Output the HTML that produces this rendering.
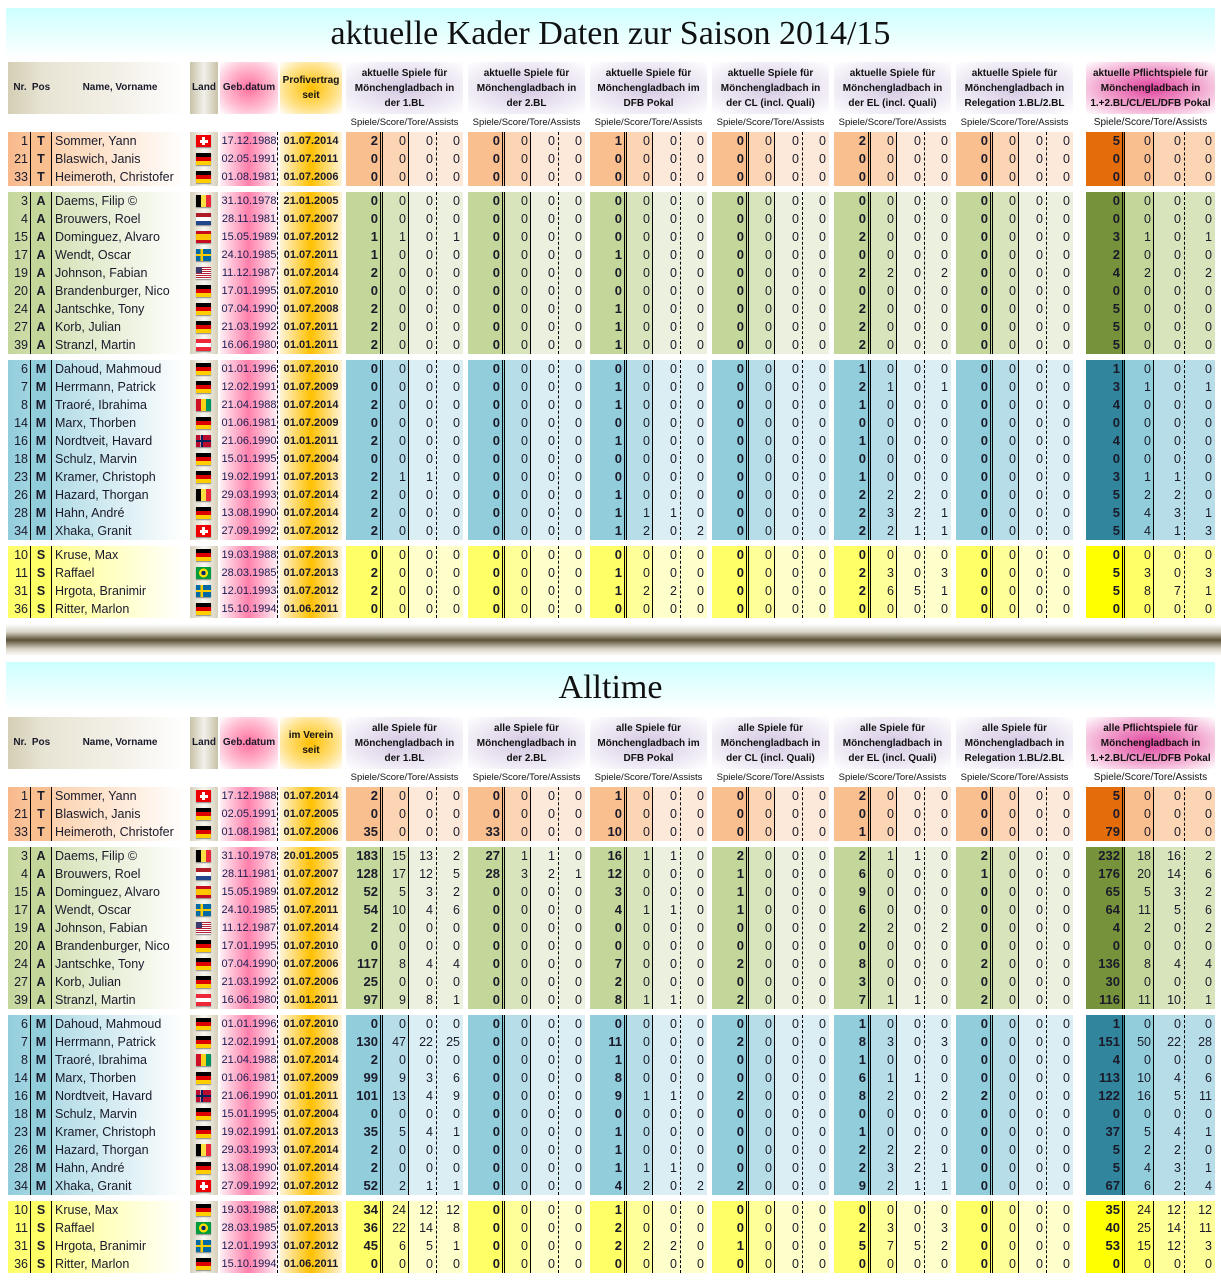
<!DOCTYPE html>
<html><head><meta charset="utf-8">
<style>
body{margin:0;width:1221px;height:1280px;background:#fff;position:relative;overflow:hidden;font-family:"Liberation Sans",sans-serif;color:#1a1a2a}
div{position:absolute;box-sizing:border-box}
.t{white-space:nowrap}
.title{font-family:"Liberation Serif",serif;font-size:34px;color:#111;text-align:center;left:0;width:1221px}
.hb{font-weight:bold;font-size:10px;text-align:center;line-height:15px;display:flex;align-items:center;justify-content:center;color:#111}
.sub{font-size:9.5px;text-align:center;color:#111}
.n{text-align:right;font-size:12.5px;line-height:18px;padding-right:3px}
.b{font-weight:bold;font-size:13px}
</style></head><body>
<div id="root"></div>
<script>
const R=document.body;
function d(x,y,w,h,st,txt,cls){const e=document.createElement('div');e.style.cssText=`left:${x}px;top:${y}px;width:${w}px;height:${h}px;`+(st||'');if(cls)e.className=cls;if(txt!==undefined)e.innerHTML=txt;R.appendChild(e);return e;}
const flags={
de:'linear-gradient(#000 0 33%,#dd0000 33% 66%,#ffce00 66%)',
ch:'#e00',
be:'linear-gradient(90deg,#000 0 33%,#fae042 33% 66%,#ed2939 66%)',
nl:'linear-gradient(#ae1c28 0 33%,#fff 33% 66%,#21468b 66%)',
es:'linear-gradient(#c60b1e 0 25%,#ffc400 25% 75%,#c60b1e 75%)',
se:'linear-gradient(transparent 40%,#fecc00 40% 60%,transparent 60%),linear-gradient(90deg,#006aa7 30%,#fecc00 30% 45%,#006aa7 45%)',
us:'linear-gradient(90deg,#3c3b6e 0 40%,transparent 40%) top left/100% 50% no-repeat,repeating-linear-gradient(#b22234 0 1px,#fff 1px 2px)',
at:'linear-gradient(#ed2939 0 33%,#fff 33% 66%,#ed2939 66%)',
gn:'linear-gradient(90deg,#ce1126 0 33%,#fcd116 33% 66%,#009460 66%)',
no:'linear-gradient(transparent 40%,#00205b 40% 60%,transparent 60%),linear-gradient(90deg,#ba0c2f 30%,#fff 30% 33%,#00205b 33% 45%,#fff 45% 48%,#ba0c2f 48%)',
br:'radial-gradient(circle,#002776 22%,#fedf00 24% 45%,#009b3a 48%)'
};
const P=[
['T',[[1,'Sommer, Yann','ch','17.12.1988','01.07.2014'],[21,'Blaswich, Janis','de','02.05.1991','01.07.2011','01.07.2005'],[33,'Heimeroth, Christofer','de','01.08.1981','01.07.2006']]],
['A',[[3,'Daems, Filip ©','be','31.10.1978','21.01.2005','20.01.2005'],[4,'Brouwers, Roel','nl','28.11.1981','01.07.2007'],[15,'Dominguez, Alvaro','es','15.05.1989','01.07.2012'],[17,'Wendt, Oscar','se','24.10.1985','01.07.2011'],[19,'Johnson, Fabian','us','11.12.1987','01.07.2014'],[20,'Brandenburger, Nico','de','17.01.1995','01.07.2010'],[24,'Jantschke, Tony','de','07.04.1990','01.07.2008','01.07.2006'],[27,'Korb, Julian','de','21.03.1992','01.07.2011','01.07.2006'],[39,'Stranzl, Martin','at','16.06.1980','01.01.2011']]],
['M',[[6,'Dahoud, Mahmoud','de','01.01.1996','01.07.2010'],[7,'Herrmann, Patrick','de','12.02.1991','01.07.2009','01.07.2008'],[8,'Traoré, Ibrahima','gn','21.04.1988','01.07.2014'],[14,'Marx, Thorben','de','01.06.1981','01.07.2009'],[16,'Nordtveit, Havard','no','21.06.1990','01.01.2011'],[18,'Schulz, Marvin','de','15.01.1995','01.07.2004'],[23,'Kramer, Christoph','de','19.02.1991','01.07.2013'],[26,'Hazard, Thorgan','be','29.03.1993','01.07.2014'],[28,'Hahn, André','de','13.08.1990','01.07.2014'],[34,'Xhaka, Granit','ch','27.09.1992','01.07.2012']]],
['S',[[10,'Kruse, Max','de','19.03.1988','01.07.2013'],[11,'Raffael','br','28.03.1985','01.07.2013'],[31,'Hrgota, Branimir','se','12.01.1993','01.07.2012'],[36,'Ritter, Marlon','de','15.10.1994','01.06.2011']]]
];
const CUR=[
['2 0 1 0 2 0 5','0 0 0 0 0 0 0','0 0 0 0 0 0 0'],
['0 0 0 0 0 0 0','0 0 0 0 0 0 0','1,1,0,1 0 0 0 2 0 3,1,0,1','1 0 1 0 0 0 2','2 0 0 0 2,2,0,2 0 4,2,0,2','0 0 0 0 0 0 0','2 0 1 0 2 0 5','2 0 1 0 2 0 5','2 0 1 0 2 0 5'],
['0 0 0 0 1 0 1','0 0 1 0 2,1,0,1 0 3,1,0,1','2 0 1 0 1 0 4','0 0 0 0 0 0 0','2 0 1 0 1 0 4','0 0 0 0 0 0 0','2,1,1,0 0 0 0 1 0 3,1,1,0','2 0 1 0 2,2,2,0 0 5,2,2,0','2 0 1,1,1,0 0 2,3,2,1 0 5,4,3,1','2 0 1,2,0,2 0 2,2,1,1 0 5,4,1,3'],
['0 0 0 0 0 0 0','2 0 1 0 2,3,0,3 0 5,3,0,3','2 0 1,2,2,0 0 2,6,5,1 0 5,8,7,1','0 0 0 0 0 0 0']
];
const ALL=[
['2 0 1 0 2 0 5','0 0 0 0 0 0 0','35 33 10 0 1 0 79'],
['183,15,13,2 27,1,1,0 16,1,1,0 2 2,1,1,0 2 232,18,16,2','128,17,12,5 28,3,2,1 12 1 6 1 176,20,14,6','52,5,3,2 0 3 1 9 0 65,5,3,2','54,10,4,6 0 4,1,1,0 1 6 0 64,11,5,6','2 0 0 0 2,2,0,2 0 4,2,0,2','0 0 0 0 0 0 0','117,8,4,4 0 7 2 8 2 136,8,4,4','25 0 2 0 3 0 30','97,9,8,1 0 8,1,1,0 2 7,1,1,0 2 116,11,10,1'],
['0 0 0 0 1 0 1','130,47,22,25 0 11 2 8,3,0,3 0 151,50,22,28','2 0 1 0 1 0 4','99,9,3,6 0 8 0 6,1,1,0 0 113,10,4,6','101,13,4,9 0 9,1,1,0 2 8,2,0,2 2 122,16,5,11','0 0 0 0 0 0 0','35,5,4,1 0 1 0 1 0 37,5,4,1','2 0 1 0 2,2,2,0 0 5,2,2,0','2 0 1,1,1,0 0 2,3,2,1 0 5,4,3,1','52,2,1,1 0 4,2,0,2 2 9,2,1,1 0 67,6,2,4'],
['34,24,12,12 0 1 0 0 0 35,24,12,12','36,22,14,8 0 2 0 2,3,0,3 0 40,25,14,11','45,6,5,1 0 2,2,2,0 1 5,7,5,2 0 53,15,12,3','0 0 0 0 0 0 0']
];
const COL={T:['#fabf8f','#fcd5b4','#fde9d9','#e46c0a','#fabf8f','#fcd5b4','#f8b88a'],
A:['#c4d79b','#d8e4bc','#ebf1de','#76933c','#c4d79b','#d8e4bc','#c4d79b'],
M:['#92cddc','#b7dee8','#daeef3','#31859c','#92cddc','#b7dee8','#92cddc'],
S:['#ffff66','#ffff99','#ffffcc','#ffff00','#ffff66','#ffff99','#ffff66']};
const GX=[346,468,590,712,834,956];
function section(y0,title,alltime,data,off){
 d(6,y0,1209,50,'background:linear-gradient(#ccffff,#fff);');
 d(0,y0+5,1221,42,'line-height:42px;',title,'title');
 const hy=y0+53+off,hh=52;
 d(8,hy,177,hh,'background:linear-gradient(90deg,#d4ceb4 0%,#e8e4d4 20%,#f2efe6 60%,#fff 100%);');
 d(8,hy,24,hh,'font-weight:bold;font-size:10px;line-height:'+hh+'px;text-align:center','Nr.');
 d(30,hy,22,hh,'font-weight:bold;font-size:10px;line-height:'+hh+'px;text-align:center','Pos');
 d(52,hy,136,hh,'font-weight:bold;font-size:10px;line-height:'+hh+'px;text-align:center','Name, Vorname');
 d(190,hy,28,hh,'background:linear-gradient(90deg,#c8c2a8,#f2f0ea 50%,#c8c2a8);font-weight:bold;font-size:10px;line-height:'+hh+'px;text-align:center','Land');
 d(220,hy,58,hh,'background:radial-gradient(ellipse at center,#ff6f9e 0%,#ffc0d4 60%,#fff 100%);font-weight:bold;font-size:10px;line-height:'+hh+'px;text-align:center','Geb.datum');
 d(280,hy,62,hh,'background:radial-gradient(ellipse at center,#ffc000 0%,#ffe28a 60%,#fff 100%);',alltime?'im Verein<br>seit':'Profivertrag<br>seit','hb');
 const pre=alltime?'alle Spiele für':'aktuelle Spiele für';
 const h2=['Mönchengladbach in<br>der 1.BL','Mönchengladbach in<br>der 2.BL','Mönchengladbach im<br>DFB Pokal','Mönchengladbach in<br>der CL (incl. Quali)','Mönchengladbach in<br>der EL (incl. Quali)','Mönchengladbach in<br>Relegation 1.BL/2.BL'];
 GX.forEach((x,i)=>{d(x,hy,117,hh,'background:radial-gradient(ellipse at center,#d4c8e2 0%,#ebe5f2 55%,#fff 100%);',pre+'<br>'+h2[i],'hb');
  d(x-2,hy+hh+3,121,12,'line-height:12px','Spiele/Score/Tore/Assists','sub t');});
 d(1086,hy,129,hh,'background:radial-gradient(ellipse at center,#e0449e 0%,#f2a6cf 55%,#fff 100%);',(alltime?'alle Pflichtspiele für':'aktuelle Pflichtspiele für')+'<br>Mönchengladbach in<br>1.+2.BL/CL/EL/DFB Pokal','hb');
 d(1084,hy+hh+3,133,12,'line-height:12px;font-size:10px','Spiele/Score/Tore/Assists','sub t');
 let y=y0+123+off;
 P.forEach((g,gi)=>{
  const pos=g[0],pl=g[1],c=COL[pos],n=pl.length,H=n*18;
  d(8,y,177,H,`background:linear-gradient(90deg,${c[6]} 0%,${c[1]} 30%,#fff 100%);`);
  d(30,y,22,H,`background:${c[0]};border-left:1.5px solid #000;border-right:1.5px solid #000;`);
  d(190,y,28,H,'background:linear-gradient(90deg,#d6d0ba,#f8f7f2 50%,#d6d0ba);');
  d(220,y,58,H,'background:linear-gradient(90deg,#fff0f5,#ff7fab 50%,#fff0f5);border-right:1px dashed #000;');
  d(280,y,62,H,'background:linear-gradient(90deg,#fff4d8,#ffc000 50%,#fff4d8);');
  GX.forEach(x=>{d(x,y,37,H,`background:${c[0]};border-right:3px double #000`);d(x+37,y,26,H,`background:${c[1]};border-right:1.5px solid #000`);d(x+63,y,54,H,`background:${c[2]}`);d(x+90,y,0,H,'border-left:1px dashed #000');});
  d(1086,y,39,H,`background:${c[3]};border-right:3px double #000`);d(1125,y,29,H,`background:${c[4]};border-right:1.5px solid #000`);d(1154,y,61,H,`background:${c[5]}`);d(1184,y,0,H,'border-left:1px dashed #000');
  pl.forEach((p,i)=>{
   const ry=y+i*18,ls='line-height:18px;font-size:12.5px;';
   d(8,ry,22,18,ls+'text-align:right;padding-right:2px',p[0]);
   d(30,ry,22,18,ls+'text-align:center;font-weight:bold',pos);
   d(55,ry,135,18,ls,p[1],'t');
   d(196,ry+3,15,12,'background:'+flags[p[2]]+';box-shadow:0 1px 1px #888');
   if(p[2]=='ch'){d(202,ry+5,3,8,'background:#fff');d(199.5,ry+7.5,8,3,'background:#fff');}
   d(220,ry,58,18,ls+'text-align:center;font-size:11px;color:#1c1c50',p[3],'t');
   d(280,ry,62,18,ls+'text-align:center;font-weight:bold;font-size:11px',(alltime&&p[5])?p[5]:p[4],'t');
   const gs=data[gi][i].split(' ');
   gs.forEach((s,k)=>{let v=s.split(',');while(v.length<4)v.push('0');
    let xs,ws;
    if(k<6){const x=GX[k];xs=[x,x+37,x+63,x+90];ws=[35,26,27,27];}else{xs=[1086,1125,1154,1184];ws=[37,29,30,31];}
    v.forEach((t,j)=>d(xs[j],ry,ws[j],18,'',t,'n'+(j==0?' b':'')));
   });
  });
  y+=H+6;
 });
}
section(8,'aktuelle Kader Daten zur Saison 2014/15',false,CUR,1);
d(6,624,1215,32,'background:linear-gradient(#fff 0%,#d8d4c6 25%,#5a5036 50%,#d8d4c6 78%,#fff 100%);');
section(662,'Alltime',true,ALL,2);
</script>
</body></html>
